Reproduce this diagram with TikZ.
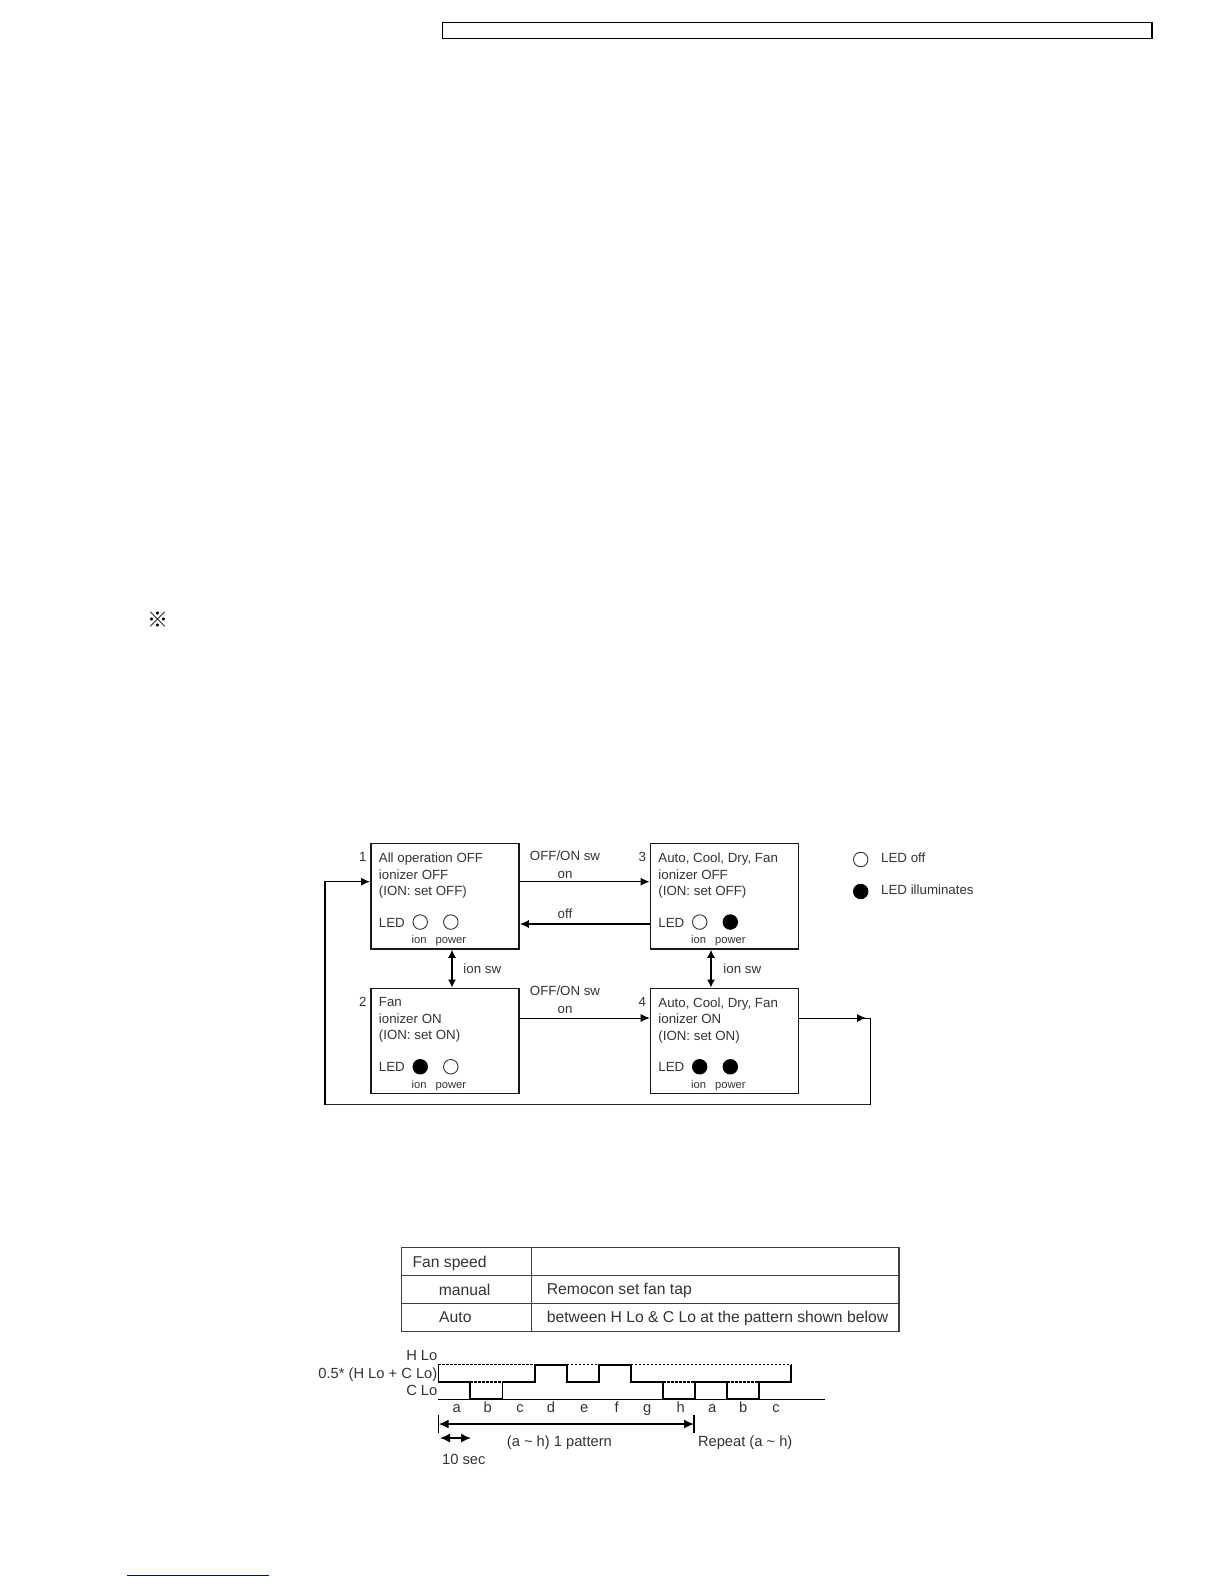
\documentclass[tikz,border=0pt]{standalone}
\usepackage{fontspec}
\setmainfont{Liberation Sans}
\newfontfamily\cjkmark{Noto Sans CJK JP}
\usetikzlibrary{arrows.meta,calc,positioning}
\definecolor{inkgray}{gray}{0.2}
\definecolor{linknavy}{rgb}{0,0,0.6}
\tikzset{
  statebox/.style={draw=black!90,line width=1.6pt,minimum width=148pt,minimum height=105.3pt,inner sep=0pt},
  boxtext/.style={anchor=north west,inner sep=0pt,align=left,text=inkgray,font=\fontsize{13.3}{16.35}\selectfont},
  lbl/.style={inner sep=0pt,text=inkgray,font=\fontsize{13.3}{15}\selectfont},
  ledlbl/.style={inner sep=0pt,text=inkgray,text height=8pt,text depth=2.5pt,font=\fontsize{11.2}{13}\selectfont},
  tablbl/.style={inner sep=0pt,anchor=west,text=inkgray,font=\fontsize{15.7}{18}\selectfont},
  wavelbl/.style={inner sep=0pt,text=inkgray,text height=10.5pt,text depth=3pt,font=\fontsize{14.7}{17}\selectfont},
  ledoff/.style={circle,draw=black!80,line width=0.9pt,minimum size=14.5pt,inner sep=0pt},
  ledon/.style={circle,draw=black,fill=black,line width=0.9pt,minimum size=14.5pt,inner sep=0pt},
  flow/.style={line width=1.5pt,-{Latex[length=9pt,width=8pt]}},
  flowthin/.style={line width=0.9pt,-{Latex[length=9pt,width=8pt]}},
  flowboth/.style={line width=1.3pt,{Latex[length=8pt,width=8pt]}-{Latex[length=8pt,width=8pt]}},
  rule/.style={line width=1.4pt,draw=black!75},
  wave/.style={line width=1.9pt,line join=miter},
  dashwave/.style={line width=1.2pt,dash pattern=on 2.5pt off 1.5pt},
}
\begin{document}
\begin{tikzpicture}[x=1pt,y=-1pt]
\useasboundingbox (0,0) rectangle (1224,1584);
% page leftovers
\draw[line width=1.2pt] (442.5,22.2) rectangle (1152,38.4);
\node[inner sep=0pt,font=\cjkmark\fontsize{21}{21}\selectfont] (refmark) at (158,620) {※};
\draw[line width=1.2pt,draw=linknavy] (127,1575.3) -- (269,1575.3);
% state boxes
\foreach \n/\cx/\cy/\la/\lb/\lc/\ionled/\powled in {
  1/445/896.3/All operation OFF/ionizer OFF/(ION: set OFF)/ledoff/ledoff,
  2/445/1041/Fan/ionizer ON/(ION: set ON)/ledon/ledoff,
  3/724.5/896.3/{Auto, Cool, Dry, Fan}/ionizer OFF/(ION: set OFF)/ledoff/ledon,
  4/724.5/1041/{Auto, Cool, Dry, Fan}/ionizer ON/(ION: set ON)/ledon/ledon}
{
  \node[statebox] (box\n) at (\cx,\cy) {};
  \node[boxtext] (text\n) at ($(box\n.north west)+(8.5,10)$) {\la\\\lb\\\lc};
  \node[lbl,left=3.5pt of box\n.north west,yshift=-14.5pt] (num\n) {\n};
  \node[lbl,anchor=west] (led\n) at ($(box\n.north west)+(8.5,79.6)$) {LED};
  \node[\ionled] (ion\n) at ($(box\n.north west)+(50,79.2)$) {};
  \node[\powled] (pow\n) at ($(box\n.north west)+(80.6,79.2)$) {};
  \node[ledlbl] (ionl\n) at ($(box\n.north west)+(49,98)$) {ion};
  \node[ledlbl] (powl\n) at ($(box\n.north west)+(80.6,98)$) {power};
}
% connectors
\draw[flow] ($(box1.east)+(0,-14.6)$) -- ($(box3.west)+(0,-14.6)$);
\draw[flow] ($(box3.west)+(0,27.7)$) -- ($(box1.east)+(0,27.7)$);
\draw[flowthin] ($(box2.east)+(0,-23)$) -- ($(box4.west)+(0,-23)$);
\draw[flowboth] ($(box1.south)+(7,0)$) -- ($(box2.north)+(7,0)$);
\draw[flowboth] ($(box3.south)+(-13.5,0)$) -- ($(box4.north)+(-13.5,0)$);
\coordinate (retA) at (870,1018);
\coordinate (retB) at (870,1104.5);
\coordinate (retC) at (325,1104.5);
\coordinate (retD) at (325,881.7);
\draw[line width=0.9pt] ($(box4.east)+(0,-23)$) -- (retA) -- (retB);
\draw[flowthin] ($(box4.east)+(0,-23)$) -- ($(retA)+(-4,0)$);
\draw[line width=1.3pt,draw=black!85] (retB) -- (retC);
\draw[flow] (retC) -- (retD) -- ($(box1.west)+(0,-14.6)$);
% connector labels
\node[lbl] (sw1) at (565,856.2) {OFF/ON sw};
\node[lbl] (on1) at (565,874.8) {on};
\node[lbl] (off1) at (565,914) {off};
\node[lbl] (sw2) at (565,991.2) {OFF/ON sw};
\node[lbl] (on2) at (565,1010.2) {on};
\node[lbl] (ionsw1) at (482.3,968.5) {ion sw};
\node[lbl] (ionsw2) at (742.3,968.5) {ion sw};
% legend
\node[ledoff] (legoff) at (860.7,859.5) {};
\node[ledon] (legon) at (860.7,891.5) {};
\node[lbl,anchor=west] (legofft) at (881,857.5) {LED off};
\node[lbl,anchor=west] (legont) at (881,889.5) {LED illuminates};
% fan table
\draw[rule] (401.3,1247.7) rectangle (899,1331.7);
\draw[rule] (531.7,1247.7) -- (531.7,1331.7);
\draw[rule] (401.3,1275.7) -- (899,1275.7);
\draw[rule] (401.3,1303.7) -- (899,1303.7);
\node[tablbl] (fan) at (412.3,1263.3) {Fan speed};
\node[tablbl] (man) at (438.7,1290) {manual};
\node[tablbl] (aut) at (439,1317.5) {Auto};
\node[tablbl] (rem) at (546.7,1290.8) {Remocon set fan tap};
\node[tablbl] (bet) at (546.7,1318) {between H Lo \& C Lo at the pattern shown below};
% fan pattern
\node[wavelbl,anchor=east] (hlo) at (437.5,1356.5) {H Lo};
\node[wavelbl,anchor=east] (midlo) at (437.5,1374.5) {0.5* (H Lo + C Lo)};
\node[wavelbl,anchor=east] (clo) at (437.5,1392.2) {C Lo};
\def\wx{32.1}
\draw[line width=1.1pt] (438.3,1399.3) -- (825,1399.3);
\draw[line width=1.1pt] (438.3,1364.7) -- (438.3,1382);
\draw[dashwave] (438.3,1364.7) -- (534.6,1364.7);
\draw[dashwave] (566.7,1364.7) -- (598.8,1364.7);
\draw[dashwave] (630.9,1364.7) -- (791.4,1364.7);
\draw[dashwave] (470.4,1382) -- (502.5,1382);
\draw[dashwave] (663,1382) -- (695.1,1382);
\draw[dashwave] (727.2,1382) -- (759.3,1382);
\draw[wave] (438.3,1382) -- ++(\wx,0) -- ++(0,17.3) -- ++(\wx,0) -- ++(0,-17.3) -- ++(\wx,0)
  -- ++(0,-17.3) -- ++(\wx,0) -- ++(0,17.3) -- ++(\wx,0) -- ++(0,-17.3) -- ++(\wx,0)
  -- ++(0,17.3) -- ++(\wx,0) -- ++(0,17.3) -- ++(\wx,0) -- ++(0,-17.3) -- ++(\wx,0)
  -- ++(0,17.3) -- ++(\wx,0) -- ++(0,-17.3) -- ++(\wx,0) -- ++(0,-17.3);
\foreach \t/\x in {a/456.7,b/487.7,c/520,d/551,e/584.3,f/616.7,g/647.3,h/680.7,a/712.3,b/743.3,c/776}
  \node[wavelbl] at (\x,1408.5) {\t};
\coordinate (patA) at (438.7,1424);
\coordinate (patB) at (694,1424);
\draw[line width=1.1pt] ($(patA)+(0,-9)$) -- ($(patA)+(0,9)$);
\draw[line width=1.1pt] ($(patB)+(0,-9)$) -- ($(patB)+(0,9)$);
\draw[line width=1.4pt,{Latex[length=10pt,width=9pt]}-{Latex[length=10pt,width=9pt]}] (patA) -- (patB);
\coordinate (secA) at (440,1438);
\coordinate (secB) at (471,1438);
\draw[line width=1.4pt,{Latex[length=10pt,width=9pt]}-{Latex[length=10pt,width=9pt]}] (secA) -- (secB);
\node[wavelbl,anchor=west] (patl) at (506.7,1442.5) {(a \textasciitilde{} h) 1 pattern};
\node[wavelbl,anchor=west] (repl) at (697.8,1442.5) {Repeat (a \textasciitilde{} h)};
\node[wavelbl,anchor=west] (secl) at (442,1461) {10 sec};
\end{tikzpicture}
\end{document}
